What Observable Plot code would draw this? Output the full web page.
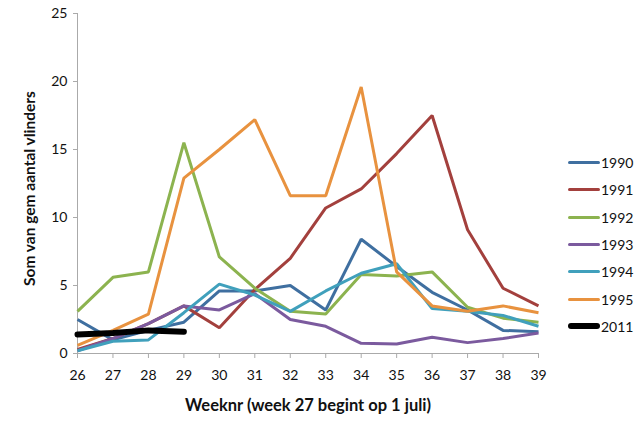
<!DOCTYPE html>
<html>
<head>
<meta charset="utf-8">
<script src="https://cdn.jsdelivr.net/npm/d3@7"></script>
<script src="https://cdn.jsdelivr.net/npm/@observablehq/plot@0.6"></script>
<style>
  html, body { margin: 0; padding: 0; background: #fff; }
  #wrap { position: relative; width: 640px; height: 432px; font-family: Lato, "Open Sans", sans-serif; }
  #legend { position: absolute; left: 568px; top: 149px; font-size: 14px; color: #111; }
  .item { display: flex; align-items: center; height: 27.3px; }
  .sw { width: 32px; margin-right: 1px; border-radius: 3px; }
</style>
</head>
<body>
<div id="wrap"><div id="chart"></div><div id="legend"></div></div>
<script>
const weeks = [26, 27, 28, 29, 30, 31, 32, 33, 34, 35, 36, 37, 38, 39];
const weeks2011 = [26, 27, 28, 29];
const seriesNames = ["1990", "1991", "1992", "1993", "1994", "1995", "2011"];
const colors = ["#3F6FA0", "#A3403D", "#8CB34F", "#7B5A9E", "#40A0BC", "#E8923F", "#000000"];
const v1990 = [2.5, 1.0, 1.7, 2.3, 4.6, 4.6, 5.0, 3.2, 8.4, 6.4, 4.5, 3.2, 1.7, 1.6];
const v1991 = [0.3, 1.1, 2.2, 3.5, 1.9, 4.7, 7.0, 10.7, 12.1, 14.7, 17.5, 9.1, 4.8, 3.5];
const v1992 = [3.1, 5.6, 6.0, 15.5, 7.1, 4.8, 3.1, 2.9, 5.8, 5.7, 6.0, 3.4, 2.6, 2.3];
const v1993 = [0.2, 1.1, 2.2, 3.5, 3.2, 4.4, 2.5, 2.0, 0.75, 0.7, 1.2, 0.8, 1.1, 1.5];
const v1994 = [0.2, 0.9, 1.0, 3.0, 5.1, 4.3, 3.1, 4.6, 5.9, 6.6, 3.3, 3.1, 2.8, 2.0];
const v1995 = [0.6, 1.7, 2.9, 12.9, 15.0, 17.2, 11.6, 11.6, 19.6, 6.0, 3.5, 3.1, 3.5, 3.0];
const v2011 = [1.4, 1.5, 1.7, 1.6];
const yTicks = [0, 5, 10, 15, 20, 25];

const values = [v1990, v1991, v1992, v1993, v1994, v1995];
const rows = [];
values.forEach((arr, i) => arr.forEach((v, j) => rows.push({week: weeks[j], value: v, series: seriesNames[i]})));
const rows2011 = v2011.map((v, j) => ({week: weeks2011[j], value: v, series: "2011"}));

const chart = Plot.plot({
  width: 640,
  height: 432,
  marginLeft: 77,
  marginRight: 102,
  marginTop: 13,
  marginBottom: 79,
  style: {fontFamily: "Lato, 'Open Sans', sans-serif", fontSize: "14px", color: "#111", background: "#fff"},
  x: {domain: [26, 39], ticks: weeks, tickFormat: d => String(d), label: null},
  y: {domain: [0, 25], ticks: yTicks, label: null},
  color: {domain: seriesNames, range: colors},
  marks: [
    Plot.ruleY([0], {stroke: "#aaa", strokeWidth: 1}),
    Plot.ruleX([26], {stroke: "#aaa", strokeWidth: 1}),
    Plot.axisX({ticks: weeks, tickSize: 5, tickPadding: 12, stroke: "#aaa", tickFormat: d => String(d), label: null, fontSize: 14}),
    Plot.axisY({ticks: yTicks, tickSize: 4, tickPadding: 6, stroke: "#aaa", label: null, fontSize: 14}),
    Plot.line(rows, {x: "week", y: "value", z: "series", stroke: "series", strokeWidth: 3, strokeLinejoin: "miter", strokeLinecap: "butt"}),
    Plot.line(rows2011, {x: "week", y: "value", stroke: "series", strokeWidth: 6, strokeLinecap: "round"}),
    Plot.text(["Weeknr (week 27 begint op 1 juli)"], {frameAnchor: "bottom", dy: 57, fontSize: 16.5, fontWeight: "bold", fill: "#111", textAnchor: "middle"}),
    Plot.text(["Som van gem aantal vlinders"], {frameAnchor: "left", dx: -47, dy: 5, rotate: -90, fontSize: 15.5, fontWeight: "bold", fill: "#111", textAnchor: "middle"})
  ]
});
document.getElementById("chart").appendChild(chart);

const legend = document.getElementById("legend");
seriesNames.forEach((name, i) => {
  const item = document.createElement("div");
  item.className = "item";
  const sw = document.createElement("div");
  sw.className = "sw";
  sw.style.background = colors[i];
  sw.style.height = name === "2011" ? "6px" : "3px";
  const t = document.createElement("span");
  t.textContent = name;
  item.appendChild(sw);
  item.appendChild(t);
  legend.appendChild(item);
});
</script>
</body>
</html>
